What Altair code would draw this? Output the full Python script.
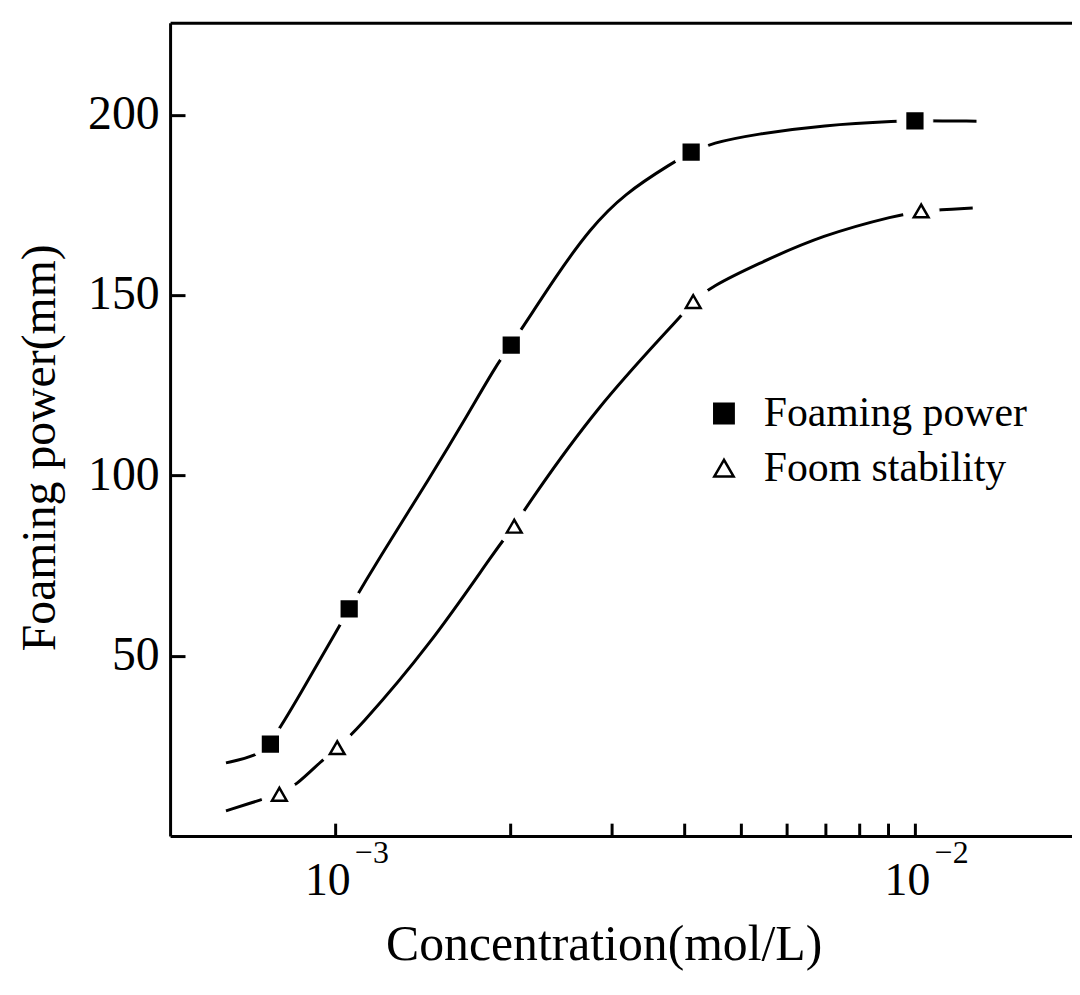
import altair as alt
import pandas as pd

FONT = "Liberation Serif"

series_names = ["Foaming power", "Foom stability"]

# measured points (concentration mol/L, foaming power mm)
fp_c = [7.73e-4, 1.057e-3, 2.012e-3, 4.111e-3, 1.0e-2]
fp_v = [25.5, 63.0, 136.1, 189.6, 198.3]
fs_c = [8.01e-4, 1.008e-3, 2.036e-3, 4.145e-3, 1.025e-2]
fs_v = [11.6, 24.5, 85.9, 148.2, 173.3]

# hand-drawn smooth curves
fp_curve_c = [6.48e-4, 7.32e-4, 7.73e-4, 8.64e-4, 1.024e-3, 1.057e-3, 1.185e-3,
              1.461e-3, 1.691e-3, 1.904e-3, 2.012e-3, 2.413e-3, 2.749e-3,
              3.145e-3, 3.83e-3, 4.111e-3, 4.45e-3, 5.316e-3, 6.93e-3,
              9.50e-3, 1.0e-2, 1.277e-2]
fp_curve_v = [20.3, 22.2, 25.5, 38.5, 59.1, 63.0, 76.5,
              99.7, 116.7, 131.1, 136.1, 155.7, 168.3,
              178.0, 186.8, 189.6, 192.1, 194.6, 197.1,
              198.3, 198.3, 198.2]
fs_curve_c = [6.48e-4, 7.52e-4, 8.01e-4, 8.54e-4, 9.46e-4, 1.008e-3, 1.082e-3,
              1.461e-3, 1.904e-3, 2.036e-3, 2.143e-3, 2.826e-3, 3.876e-3,
              4.145e-3, 4.45e-3, 5.316e-3, 6.93e-3, 9.35e-3, 1.025e-2, 1.258e-2]
fs_curve_v = [7.0, 10.3, 11.6, 13.9, 20.8, 24.5, 28.8,
              53.1, 80.1, 85.9, 91.7, 119.0, 142.7,
              148.2, 152.3, 158.4, 166.7, 172.2, 173.3, 174.1]

x_ticks = [1e-3, 2e-3, 3e-3, 4e-3, 5e-3, 6e-3, 7e-3, 8e-3, 9e-3, 1e-2]
x_label_ticks = [1e-3, 1e-2]
x_exponents = ["\u22123", "\u22122"]
y_ticks = [50, 100, 150, 200]
x_domain = [5.19e-4, 0.01866]
y_domain = [0, 225.5]

points = pd.DataFrame({
    "c": fp_c + fs_c,
    "v": fp_v + fs_v,
    "series": [series_names[0]] * len(fp_c) + [series_names[1]] * len(fs_c),
})
halo_pts = pd.DataFrame({"hc": fp_c + fs_c, "hv": fp_v + fs_v})
curves = pd.DataFrame({
    "c": fp_curve_c + fs_curve_c,
    "v": fp_curve_v + fs_curve_v,
    "series": [series_names[0]] * len(fp_curve_c) + [series_names[1]] * len(fs_curve_c),
})
exps = pd.DataFrame({"c": x_label_ticks, "txt": x_exponents})

xscale = alt.Scale(type="log", domain=x_domain, nice=False)
yscale = alt.Scale(domain=y_domain, nice=False, zero=False)

lines = alt.Chart(curves).mark_line(color="black", strokeWidth=3, interpolate="basis").encode(
    x=alt.X("c:Q", scale=xscale, axis=alt.Axis(
        orient="bottom", title="Concentration(mol/L)", values=x_label_ticks,
        labelExpr="'10'", ticks=False, tickSize=0, domain=True, domainWidth=3,
        grid=False, labelFont=FONT, labelFontSize=46, labelAlign="right",
        labelOffset=15, labelBaseline="alphabetic", labelPadding=59,
        titleFont=FONT, titleFontSize=50, titleFontWeight="normal",
        titleX=436, titleY=124, titleBaseline="alphabetic", titleAlign="center")),
    y=alt.Y("v:Q", scale=yscale, axis=alt.Axis(
        orient="left", title="Foaming power(mm)", values=y_ticks,
        ticks=False, tickSize=0, domain=True, domainWidth=3, grid=False,
        labelFont=FONT, labelFontSize=48, labelPadding=11, labelBaseline="middle",
        titleFont=FONT, titleFontSize=48, titleFontWeight="normal",
        titleX=-116, titleY=427, titleBaseline="alphabetic", titleAlign="center")),
    detail="series:N",
)

# white halo that opens the gap in the curve around each marker
halo = alt.Chart(halo_pts).mark_point(shape="circle", filled=True, fill="#ffffff",
                                      stroke="#ffffff", strokeWidth=1,
                                      size=1300, opacity=1).encode(
    x=alt.X("hc:Q", scale=xscale, axis=None),
    y=alt.Y("hv:Q", scale=yscale, axis=None),
)

leg = alt.Legend(title=None, orient="none", legendX=536, legendY=372, padding=0,
                 labelFont=FONT, labelFontSize=42, labelColor="black", labelLimit=600,
                 symbolSize=380, symbolStrokeWidth=2.5, symbolStrokeColor="black",
                 symbolOpacity=1, rowPadding=13, labelOffset=19)

marks = alt.Chart(points).mark_point(strokeWidth=2.5, size=220, opacity=1).encode(
    x=alt.X("c:Q", scale=xscale, axis=alt.Axis(
        orient="bottom", values=x_ticks, labels=False, domain=False, ticks=True,
        tickSize=13, tickWidth=3, offset=-13, title=None, grid=False)),
    y=alt.Y("v:Q", scale=yscale, axis=alt.Axis(
        orient="left", values=y_ticks, labels=False, domain=False, ticks=True,
        tickSize=15, tickWidth=3, offset=-15, title=None, grid=False)),
    shape=alt.Shape("series:N", scale=alt.Scale(domain=series_names, range=["square", "triangle-up"]), legend=leg),
    fill=alt.Fill("series:N", scale=alt.Scale(domain=series_names, range=["black", "white"]), legend=leg),
    stroke=alt.Stroke("series:N", scale=alt.Scale(domain=series_names, range=["black", "black"]), legend=leg),
)

exp_text = alt.Chart(exps).mark_text(font=FONT, fontSize=32, align="left", baseline="alphabetic",
                                     dx=20, dy=27, color="black").encode(
    x=alt.X("c:Q", scale=xscale, axis=alt.Axis(
        orient="top", labels=False, ticks=False, domain=True, domainWidth=3,
        title=None, grid=False)),
    y=alt.Y("zero:Q", scale=yscale, axis=None),
    text="txt:N",
).transform_calculate(zero="0")

chart = alt.layer(lines, halo, marks, exp_text).resolve_axis(
    x="independent", y="independent"
).properties(
    width=907, height=818,
    autosize=alt.AutoSizeParams(type="none"),
    padding={"left": 163, "top": 12, "right": 0, "bottom": 149},
    background="white",
).configure_view(stroke=None).configure_axis(
    domainColor="black", tickColor="black", labelColor="black", titleColor="black"
)

chart.save("out.html", embed_options={"renderer": "svg", "actions": False})
